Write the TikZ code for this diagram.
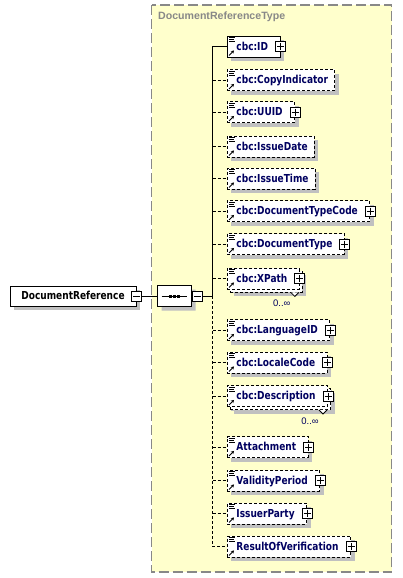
\documentclass[tikz,border=0pt]{standalone}
\usepackage{fontspec}
\setmainfont{Liberation Sans}
\newfontfamily\tahoma{DejaVu Sans}[FakeStretch=0.82]
\usetikzlibrary{shadows,shapes.misc,arrows.meta}

\definecolor{amarillo}{RGB}{255,255,204}
\definecolor{azulxs}{RGB}{0,0,96}
\definecolor{grisborde}{RGB}{136,136,136}
\definecolor{grissombra}{RGB}{192,192,192}

\tikzset{
	sombra/.style={drop shadow={shadow xshift=4pt, shadow yshift=-4pt, fill=grissombra, opacity=1, draw=none}},
	elem/.style={draw, fill=white, sombra, anchor=west, line width=0.9pt,
		minimum height=21pt, inner xsep=0pt, inner ysep=0pt, text height=9.5pt, text depth=2pt,
		font=\tahoma\fontsize{11}{12}\selectfont\bfseries, text=azulxs,
		execute at begin node={\hspace*{9pt}}},
	sinmas/.style={execute at end node={\hspace*{6.5pt}}},
	conmas/.style={execute at end node={\hspace*{12pt}}},
	opc/.style={dash pattern=on 3pt off 2pt},
	multi/.style={drop shadow={shadow xshift=7pt, shadow yshift=-7pt, fill=grissombra, opacity=1, draw=none},
		copy shadow={shadow xshift=3pt, shadow yshift=-3pt, draw, fill=white, opc}},
	mas/.style={draw, solid, fill=white, line width=0.9pt, minimum size=10pt, inner sep=0pt,
		path picture={\draw[line width=0.9pt] ([xshift=1.5pt]path picture bounding box.west) -- ([xshift=-1.5pt]path picture bounding box.east)
			([yshift=-1.5pt]path picture bounding box.north) -- ([yshift=1.5pt]path picture bounding box.south);}},
	menos/.style={draw, solid, fill=white, line width=0.9pt, minimum size=10pt, inner sep=0pt,
		path picture={\draw[line width=0.9pt] ([xshift=1.5pt]path picture bounding box.west) -- ([xshift=-1.5pt]path picture bounding box.east);}},
	ocurr/.style={font=\fontsize{9.5}{11}\selectfont, text=azulxs, inner sep=0pt},
}
\newcommand{\icono}[1]{%
	\draw[line width=0.7pt] ([xshift=2pt,yshift=-2pt]#1.north west) -- ++(6pt,0pt)
		([xshift=2pt,yshift=-4pt]#1.north west) -- ++(5pt,0pt)
		([xshift=2pt,yshift=-6pt]#1.north west) -- ++(6pt,0pt);
	\draw[line width=0.9pt, -{Stealth[length=3pt,width=3.5pt]}]
		([xshift=2pt,yshift=2pt]#1.south west) -- ++(5pt,5pt);}

\begin{document}
\begin{tikzpicture}[x=1pt, y=-1pt]
	\useasboundingbox (0,0) rectangle (402,578);
	% Marco del tipo complejo
	\draw[fill=amarillo, draw=grisborde, line width=1.2pt, dash pattern=on 10pt off 4pt] (151.5,5) rectangle (391.5,572);
	\node[anchor=west, inner sep=0pt, text=grisborde, font=\fontsize{10.6}{12}\selectfont\bfseries] (titulo) at (158,17) {DocumentReferenceType};
	% Elemento raiz
	\node[draw, fill=white, sombra, line width=0.9pt, minimum width=126pt, minimum height=20pt, inner sep=0pt,
		text height=9.5pt, text depth=2pt, font=\tahoma\fontsize{11}{12}\selectfont\bfseries] (raiz) at (73,296) {DocumentReference};
	\node[menos] (raizmenos) at (raiz.east) {};
	% Compositor de secuencia
	\node[chamfered rectangle, chamfered rectangle xsep=5pt, chamfered rectangle ysep=5pt, draw, fill=white, sombra,
		line width=0.9pt, minimum width=34pt, minimum height=21pt, inner sep=0pt] (secuencia) at (174.5,296) {};
	\draw[line width=0.9pt] ([xshift=4.5pt]secuencia.west) -- ([xshift=-4.5pt]secuencia.east);
	\foreach \d in {-4,0,4}
		\fill ([xshift=\d pt]secuencia.center) +(-1.5pt,-1.5pt) rectangle +(1.5pt,1.5pt);
	\node[menos, anchor=west] (secmenos) at ([xshift=0.5pt]secuencia.east) {};
	% Elementos hijos
	\node[elem, conmas] (id) at (227,46.5) {cbc:ID};
	\node[elem, opc, sinmas] (copia) at (227,80) {cbc:CopyIndicator};
	\node[elem, opc, conmas] (uuid) at (227,112) {cbc:UUID};
	\node[elem, opc, sinmas] (fecha) at (227,146.5) {cbc:IssueDate};
	\node[elem, opc, sinmas] (hora) at (227,178.5) {cbc:IssueTime};
	\node[elem, opc, conmas] (tipocod) at (227,211) {cbc:DocumentTypeCode};
	\node[elem, opc, conmas] (tipo) at (227,244) {cbc:DocumentType};
	\node[elem, multi, opc, conmas] (xpath) at (227,278.5) {cbc:XPath};
	\node[elem, opc, conmas] (idioma) at (227,330) {cbc:LanguageID};
	\node[elem, opc, conmas] (local) at (227,362.5) {cbc:LocaleCode};
	\node[elem, multi, opc, conmas] (descr) at (227,396) {cbc:Description};
	\node[elem, opc, conmas] (adjunto) at (227,447) {Attachment};
	\node[elem, opc, conmas] (validez) at (227,480.5) {ValidityPeriod};
	\node[elem, opc, conmas] (emisor) at (227,513.5) {IssuerParty};
	\node[elem, opc, conmas] (resultado) at (227,546.5) {ResultOfVerification};
	% Iconos y cajas de expansion
	\foreach \n in {id,copia,uuid,fecha,hora,tipocod,tipo,xpath,idioma,local,descr,adjunto,validez,emisor,resultado}
		\icono{\n};
	\foreach \n in {id,uuid,tipocod,tipo,xpath,idioma,local,descr,adjunto,validez,emisor,resultado}
		\node[mas] (\n mas) at (\n.east) {};
	% Ocurrencias 0..inf
	\foreach \n in {xpath,descr}
		\draw[line width=0.8pt, fill=white] ([xshift=-9pt,yshift=-3pt]\n.south east) -- ++(4pt,-4pt) -- ++(4pt,4pt);
	\node[ocurr] (xpathocc) at ([xshift=-18pt,yshift=-14pt]xpath.south east) {0..∞};
	\node[ocurr] (descrocc) at ([xshift=-18pt,yshift=-14pt]descr.south east) {0..∞};
	% Conectores
	\coordinate (nudo) at (212.5,296);
	\draw[line width=0.9pt] (raizmenos) -- (secuencia) (secmenos) -- (nudo) -- (nudo |- id.west) -- (id.west);
	\draw[line width=0.9pt, opc] (nudo) -- (nudo |- resultado.west) -- (resultado.west)
		(nudo |- copia.west) -- (copia.west) (nudo |- uuid.west) -- (uuid.west)
		(nudo |- fecha.west) -- (fecha.west) (nudo |- hora.west) -- (hora.west)
		(nudo |- tipocod.west) -- (tipocod.west) (nudo |- tipo.west) -- (tipo.west)
		(nudo |- xpath.west) -- (xpath.west) (nudo |- idioma.west) -- (idioma.west)
		(nudo |- local.west) -- (local.west) (nudo |- descr.west) -- (descr.west)
		(nudo |- adjunto.west) -- (adjunto.west) (nudo |- validez.west) -- (validez.west)
		(nudo |- emisor.west) -- (emisor.west);
\end{tikzpicture}
\end{document}
